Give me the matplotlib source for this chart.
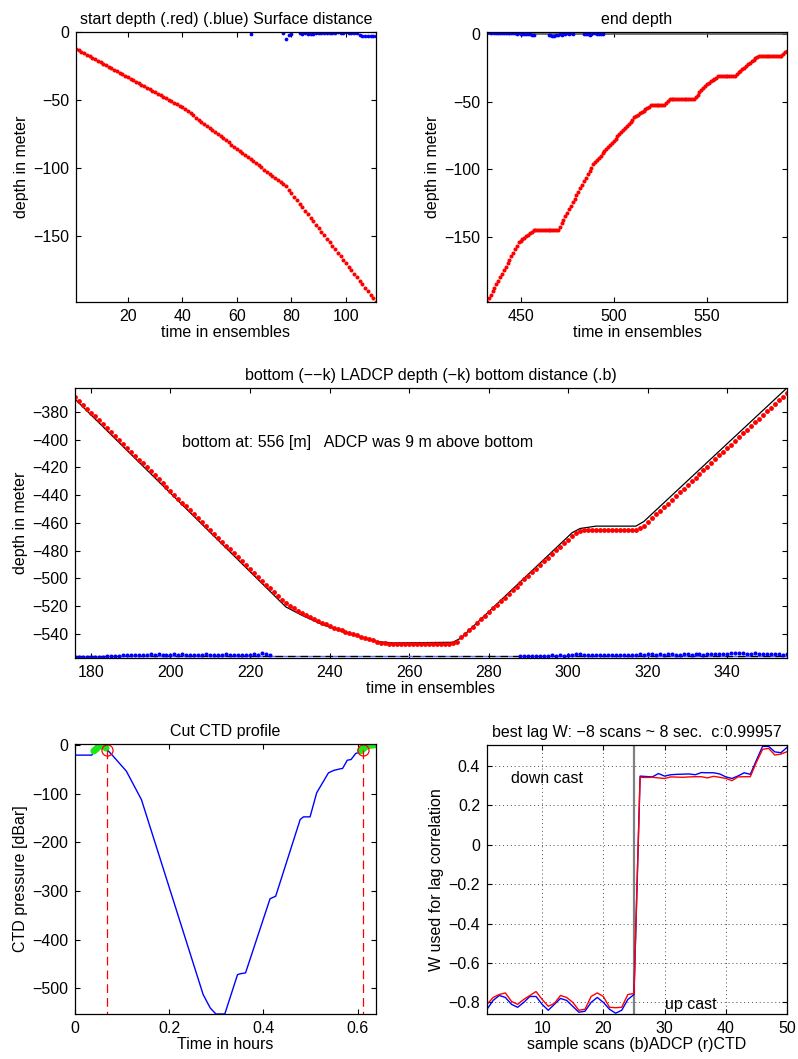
import numpy as np
import matplotlib
matplotlib.use("Agg")
import matplotlib.pyplot as plt

plt.rcParams["font.family"] = ["Liberation Sans", "DejaVu Sans"]
plt.rcParams["font.size"] = 11.5
plt.rcParams["axes.linewidth"] = 0.9

# --- start of cast: ensembles 1..111 ---
ens_start = np.arange(1, 112)
start_depth = [
    -12.0, -13.1, -14.2, -15.3, -16.4, -17.5, -18.6, -19.7, -20.8, -21.9,
    -23.0, -24.1, -25.2, -26.3, -27.4, -28.5, -29.6, -30.7, -31.8, -32.9,
    -34.1, -35.2, -36.3, -37.4, -38.5, -39.6, -40.7, -41.8, -42.9, -44.0,
    -45.1, -46.2, -47.3, -48.4, -49.5, -50.6, -51.7, -52.8, -53.9, -55.0,
    -56.5, -58.1, -59.6, -61.1, -62.6, -64.2, -65.7, -67.2, -68.7, -70.3,
    -71.8, -73.3, -74.8, -76.4, -77.9, -79.4, -80.9, -82.5, -84.0, -85.5,
    -87.1, -88.6, -90.1, -91.6, -93.2, -94.7, -96.2, -97.7, -99.3, -100.8,
    -102.3, -103.8, -105.4, -106.9, -108.4, -109.9, -111.5, -113.0, -115.6, -118.2,
    -120.7, -123.3, -125.9, -128.5, -131.0, -133.6, -136.2, -138.8, -141.3, -143.9,
    -146.5, -149.1, -151.6, -154.2, -156.8, -159.4, -161.9, -164.5, -167.1, -169.7,
    -172.2, -174.8, -177.4, -180.0, -182.5, -185.1, -187.7, -190.3, -192.8, -195.4,
    -198.0,
]
surf_ens = [65, 77, 78, 79, 80, 83, 84, 85, 86, 87, 88, 89, 90, 91, 92, 93, 94,
            95, 96, 97, 98, 99, 100, 101, 102, 103, 104, 105, 106, 107, 108,
            109, 110, 111]
surf_dist = [-1.5, -0.3, -5.0, -1.8, -1.0, -0.8, -1.0, -0.8, -1.0, -0.9, -1.1,
             -0.7, -0.8, -0.5, -0.4, -0.3, -0.4, -0.2, -0.3, -0.1, -0.2, -0.3,
             -0.1, -0.4, -0.2, -0.6, -0.5, -2.3, -2.4, -2.5, -2.4, -2.6, -2.5,
             -2.4]

# --- end of cast: ensembles 432..593 ---
ens_end = np.arange(432, 594)
end_depth = [
    -198.0, -195.4, -192.8, -190.2, -187.6, -185.1, -182.5, -179.9, -177.3, -174.7,
    -172.1, -169.5, -166.9, -164.4, -161.8, -159.2, -156.6, -154.0,
    -152.9, -151.8, -150.6, -149.5, -148.4, -147.3, -146.1, -145.0,
    -145.1, -145.0, -145.2, -145.1, -145.0, -145.1, -145.2, -145.1, -145.0, -145.1,
    -145.2, -145.1, -145.0,
    -142.4, -139.8, -137.3, -134.7, -132.1, -129.5, -126.9, -124.4, -121.8, -119.2,
    -116.6, -114.1, -111.5, -108.9, -106.3, -103.7, -101.2, -98.6, -96.0,
    -94.4, -92.9, -91.3, -89.7, -88.2, -86.6, -85.0, -83.5, -81.9, -80.3, -78.8,
    -77.2, -75.6, -74.0, -72.5, -70.9, -69.3, -67.8, -66.2, -64.6, -63.1, -61.5,
    -60.5, -59.5, -58.5, -57.5, -56.5, -55.5, -54.5, -53.5, -52.5,
    -52.5, -52.6, -52.5, -52.6, -52.5, -52.6, -52.5,
    -50.9, -49.3, -47.7,
    -47.7, -47.8, -47.7, -47.8, -47.7, -47.8, -47.7, -47.8, -47.7, -47.8, -47.7,
    -47.8, -47.7,
    -46.1, -44.6, -43.0, -41.5, -39.9, -38.4, -36.8,
    -35.8, -34.9, -33.9, -32.9, -32.0, -31.0,
    -30.9, -30.9, -30.8, -30.8, -30.7, -30.7, -30.6, -30.6, -30.5,
    -29.3, -28.2, -27.0, -25.8, -24.7, -23.5, -22.3, -21.2, -20.0, -18.8, -17.7,
    -16.5,
    -16.3, -16.0, -15.8,
    -15.8, -15.8, -15.9, -15.9, -15.9, -15.9, -16.0, -16.0, -16.0, -16.0,
    -14.7, -13.3, -12.0,
]
end_surf_ens = [432, 433, 434, 435, 436, 437, 438, 439, 440, 441, 442, 443, 444,
                445, 446, 447, 448, 449, 450, 451, 452, 453, 454, 455, 456, 457,
                465, 466, 467, 468, 469, 470, 471, 472, 473, 474, 475, 476, 477,
                478, 484, 485, 486, 487, 488, 489, 490, 491, 492, 493, 494]
end_surf_dist = [1.4, 1.5, 1.3, 1.4, 1.2, 1.3, 1.1, 1.2, 1.0, 1.1, 0.9, 1.0, 0.8,
                 0.9, 0.7, 0.8, 0.6, 0.7, 0.5, 0.6, 0.4, 0.5, 0.2, 0.3, -0.2, -0.6,
                 -0.5, -0.6, -1.0, -1.6, -0.8, -0.2, 0.3, -0.3, 0.6, 0.2, 0.8, 0.4,
                 0.7, 0.5, 0.4, 0.6, 0.2, -0.3, 0.1, 0.7, 0.9, 0.6, 0.5, 0.2, 0.0]

# --- bottom part: ensembles 176..355 ---
ens_bot = np.arange(176, 356)
bot_depth = [
    -369.2, -372.0, -374.8, -377.6, -380.5, -383.3, -386.1, -388.9, -391.7, -394.6,
    -397.4, -400.2, -403.0, -405.8, -408.6, -411.5, -414.3, -417.1, -419.9, -422.7,
    -425.5, -428.4, -431.2, -434.0, -436.8, -439.6, -442.4, -445.3, -448.1, -450.9,
    -453.7, -456.5, -459.3, -462.2, -465.0, -467.8, -470.6, -473.4, -476.3, -479.1,
    -481.9, -484.7, -487.5, -490.3, -493.2, -496.0, -498.8, -501.6, -504.4, -507.2,
    -510.1, -512.9, -515.7,
    -517.9, -519.8, -521.6, -523.3, -524.9, -526.4, -527.9, -529.3, -530.6, -531.9,
    -533.1, -534.3, -535.4, -536.4, -537.4, -538.4, -539.3, -540.2, -541.1, -542.0,
    -542.9, -543.8, -544.7, -545.5, -546.2, -546.7,
    -546.9, -547.0, -547.1, -547.0, -546.9, -547.0, -547.1, -547.0, -546.9, -547.0,
    -547.1, -547.0, -546.9, -547.0, -547.0, -546.9, -546.8,
    -545.5,
    -542.5, -539.9, -537.3, -534.7, -532.1, -529.4, -526.8, -524.2, -521.6, -519.0,
    -516.4, -513.8, -511.2, -508.6, -505.9, -503.3, -500.7, -498.1, -495.5, -492.9,
    -490.3, -487.7, -485.1, -482.4, -479.8, -477.2, -474.6, -472.0, -469.4,
    -467.2, -466.0, -465.4,
    -465.1, -465.2, -465.1, -465.0, -465.1, -465.2, -465.1, -465.0, -465.1, -465.2,
    -465.1, -465.0, -465.1,
    -464.0, -461.9,
    -459.2, -456.6, -453.9, -451.3, -448.6, -446.0, -443.3, -440.7, -438.0, -435.3,
    -432.7, -430.0, -427.4, -424.7, -422.1, -419.4, -416.7, -414.1, -411.4, -408.8,
    -406.1, -403.5, -400.8, -398.2, -395.5, -392.8, -390.2, -387.5, -384.9, -382.2,
    -379.6, -376.9, -374.2, -371.6, -368.9, -366.3,
]
ladcp_ens = [176, 229, 233, 238, 245, 252, 256, 271, 273, 301, 303, 307, 317, 319, 355]
ladcp_depth = [-370.8, -520.5, -526.5, -533.0, -540.0, -545.5, -546.5, -546.0,
               -543.0, -467.0, -464.0, -462.3, -462.3, -459.0, -362.7]
bottom_depth = -556.0
bottom_dist_ref = -555.7
bdist_ens = np.concatenate([np.arange(176, 226), np.arange(288, 356)])
bdist = [
    -556.8, -556.6, -556.9, -556.5, -556.7, -556.4, -556.6, -556.3, -556.0, -556.2,
    -555.7, -555.9, -555.3, -555.5, -555.4, -555.0, -555.3, -554.9, -555.2, -554.6,
    -555.0, -554.8, -555.1, -554.9, -555.2, -554.7, -555.0, -554.8, -555.3, -555.0,
    -554.9, -555.2, -555.0, -554.7, -555.1, -555.3, -554.9, -555.0, -554.8, -555.2,
    -555.0, -555.3, -555.1, -554.9, -555.0, -554.6, -555.2, -554.0, -554.8, -555.3,
    -556.2, -556.0, -555.8, -556.1, -555.7, -555.9, -556.2, -555.8, -555.5, -555.7,
    -555.4, -555.6, -555.2, -554.9, -554.5, -554.7, -555.0, -555.3, -555.4, -555.3,
    -555.5, -555.4, -555.3, -555.4, -555.2, -555.3, -555.1, -555.2, -555.0, -554.9,
    -554.6, -555.0, -554.7, -554.5, -554.9, -554.8, -555.1, -554.7, -554.4, -555.1,
    -555.0, -554.8, -554.6, -555.0, -554.8, -554.6, -555.0, -554.7, -554.5, -554.3,
    -554.7, -554.4, -554.2, -554.0, -553.9, -553.8, -554.0, -554.1, -554.3, -554.0,
    -554.2, -554.5, -554.4, -554.6, -554.8, -554.7, -554.9, -554.8,
]

# --- CTD pressure time series ---
ctd_hours = [0.000, 0.0355, 0.045, 0.052, 0.060, 0.068, 0.081, 0.109, 0.141,
             0.272, 0.287, 0.299, 0.318, 0.345, 0.352, 0.362, 0.414, 0.426,
             0.478, 0.485, 0.499, 0.513, 0.538, 0.549, 0.563, 0.568, 0.578,
             0.586, 0.596, 0.606, 0.612, 0.620, 0.639]
ctd_press = [-20.5, -20.5, -8.0, -1.0, -1.0, -9.0, -22.6, -53.5, -112.0,
             -513.0, -540.5, -553.0, -553.0, -472.0, -470.0, -468.5, -316.0,
             -310.7, -153.0, -147.5, -147.5, -98.0, -57.0, -52.0, -48.7, -48.0,
             -31.0, -29.5, -17.0, -14.0, -9.0, -2.0, 0.0]
surf_hours_a = [0.040, 0.045, 0.052, 0.060, 0.066]
surf_press_a = [-12.0, -8.0, -1.0, -1.0, -6.0]
surf_hours_b = [0.606, 0.612, 0.620, 0.639]
surf_press_b = [-12.0, -7.0, -1.0, 1.0]
cut_hours = [0.068, 0.612]
cut_press = [-9.0, -9.0]

# --- lag correlation of vertical velocity ---
scans = np.arange(1, 51)
w_adcp = [
    -0.835, -0.79, -0.765, -0.775, -0.81, -0.825, -0.80, -0.77, -0.77, -0.81,
    -0.84, -0.81, -0.78, -0.79, -0.82, -0.85, -0.845, -0.80, -0.775, -0.80,
    -0.835, -0.855, -0.84, -0.785, -0.76,
    0.349, 0.347, 0.345, 0.362, 0.349, 0.356, 0.358, 0.359, 0.360, 0.356,
    0.367, 0.366, 0.366, 0.360, 0.345, 0.337, 0.350, 0.366, 0.358, 0.430,
    0.500, 0.500, 0.472, 0.468, 0.495,
]
w_ctd = [
    -0.81, -0.775, -0.76, -0.752, -0.795, -0.81, -0.785, -0.765, -0.745, -0.785,
    -0.82, -0.805, -0.765, -0.775, -0.80, -0.84, -0.835, -0.77, -0.752, -0.77,
    -0.825, -0.827, -0.825, -0.76, -0.755,
    0.343, 0.342, 0.343, 0.340, 0.337, 0.345, 0.344, 0.343, 0.345, 0.346,
    0.346, 0.340, 0.348, 0.343, 0.337, 0.326, 0.345, 0.346, 0.346, 0.420,
    0.485, 0.490, 0.456, 0.461, 0.473,
]
split_scan = 25


def style_axes(ax):
    ax.tick_params(direction="in", top=True, right=True, length=3.5,
                   width=0.8, labelsize=11.5, pad=5)
    for sp in ax.spines.values():
        sp.set_linewidth(0.9)


def main():
    fig = plt.figure(figsize=(7.98, 10.59), dpi=100)

    # start depth
    ax1 = fig.add_axes([0.0952, 0.7150, 0.3760, 0.2545])
    ax1.axhline(0, color="0.35", lw=1.2)
    ax1.plot(ens_start, start_depth, "o", color="red", ms=2.9, mew=0)
    ax1.plot(surf_ens, surf_dist, "o", color="blue", ms=2.7, mew=0)
    ax1.set_xlim(1, 111)
    ax1.set_ylim(-198, 0)
    ax1.set_xticks([20, 40, 60, 80, 100])
    ax1.set_yticks([0, -50, -100, -150])
    ax1.set_title("start depth (.red) (.blue) Surface distance", fontsize=11.5, pad=6)
    ax1.set_xlabel("time in ensembles", labelpad=1)
    ax1.set_ylabel("depth in meter", labelpad=3)
    style_axes(ax1)

    # end depth
    ax2 = fig.add_axes([0.6103, 0.7150, 0.3760, 0.2545])
    ax2.axhline(0, color="0.35", lw=1.2)
    ax2.plot(ens_end, end_depth, "o", color="red", ms=2.9, mew=0)
    ax2.plot(end_surf_ens, end_surf_dist, "o", color="blue", ms=2.7, mew=0)
    ax2.set_xlim(432, 593)
    ax2.set_ylim(-198, 1.5)
    ax2.set_xticks([450, 500, 550])
    ax2.set_yticks([0, -50, -100, -150])
    ax2.set_title("end depth", fontsize=11.5, pad=6)
    ax2.set_xlabel("time in ensembles", labelpad=1)
    ax2.set_ylabel("depth in meter", labelpad=3)
    style_axes(ax2)

    # bottom detection
    ax3 = fig.add_axes([0.0940, 0.3787, 0.8922, 0.2550])
    ax3.axhline(bottom_dist_ref, color=(0.35, 0.45, 1.0), lw=1.0)
    ax3.axhline(bottom_depth, color="black", lw=0.9, ls=(0, (6, 4)))
    ax3.plot(ladcp_ens, ladcp_depth, "-", color="black", lw=0.9)
    ax3.plot(ens_bot, bot_depth, "o", color="red", ms=3.5, mew=0)
    ax3.plot(bdist_ens, bdist, "o", color="blue", ms=2.9, mew=0)
    ax3.text(202.9, -401.9, "bottom at: 556 [m]   ADCP was 9 m above bottom",
             va="center", ha="left", fontsize=11.5)
    ax3.set_xlim(176, 355)
    ax3.set_ylim(-557.3, -362.7)
    ax3.set_xticks(np.arange(180, 341, 20))
    ax3.set_yticks(np.arange(-540, -379, 20))
    ax3.set_title("bottom (\u2212\u2212k) LADCP depth (\u2212k) bottom distance (.b)",
                  fontsize=11.5, pad=6)
    ax3.set_xlabel("time in ensembles", labelpad=1)
    ax3.set_ylabel("depth in meter", labelpad=3)
    style_axes(ax3)

    # CTD profile with cut points
    ax4 = fig.add_axes([0.0940, 0.0425, 0.3772, 0.2550])
    ax4.plot(ctd_hours, ctd_press, "-", color="blue", lw=1.0)
    ax4.plot(surf_hours_a, surf_press_a, "-", color=(0.1, 0.9, 0.1), lw=5,
             solid_capstyle="round")
    ax4.plot(surf_hours_b, surf_press_b, "-", color=(0.1, 0.9, 0.1), lw=5,
             solid_capstyle="round")
    for h, p in zip(cut_hours, cut_press):
        ax4.plot([h, h], [p, -553], color="red", lw=0.9, ls=(0, (7, 4)))
    ax4.plot(cut_hours, cut_press, "o", mfc="none", mec="red", ms=8, mew=0.9)
    ax4.set_xlim(0, 0.639)
    ax4.set_ylim(-553, 2.5)
    ax4.set_xticks([0, 0.2, 0.4, 0.6])
    ax4.set_xticklabels(["0", "0.2", "0.4", "0.6"])
    ax4.set_yticks([0, -100, -200, -300, -400, -500])
    ax4.set_title("Cut CTD profile", fontsize=11.5, pad=6)
    ax4.set_xlabel("Time in hours", labelpad=1)
    ax4.set_ylabel("CTD pressure [dBar]", labelpad=3)
    style_axes(ax4)

    # lag correlation
    ax5 = fig.add_axes([0.6103, 0.0425, 0.3760, 0.2540])
    ax5.grid(True, ls=(0, (1, 3)), color="0.3", lw=0.7)
    ax5.axvline(split_scan, color="0.5", lw=1.6)
    ax5.plot(scans, w_adcp, "-", color="blue", lw=1.0)
    ax5.plot(scans, w_ctd, "-", color="red", lw=1.0)
    ax5.text(4.9, 0.337, "down cast", va="center", ha="left", fontsize=11.5)
    ax5.text(30, -0.812, "up cast", va="center", ha="left", fontsize=11.5)
    ax5.set_xlim(1, 50)
    ax5.set_ylim(-0.859, 0.507)
    ax5.set_xticks([10, 20, 30, 40, 50])
    ax5.set_yticks([-0.8, -0.6, -0.4, -0.2, 0, 0.2, 0.4])
    ax5.set_yticklabels(["\u22120.8", "\u22120.6", "\u22120.4", "\u22120.2", "0",
                         "0.2", "0.4"])
    ax5.set_title("best lag W: \u22128 scans ~ 8 sec.  c:0.99957", fontsize=11.5, pad=6)
    ax5.set_xlabel("sample scans (b)ADCP (r)CTD", labelpad=1)
    ax5.set_ylabel("W used for lag correlation", labelpad=3)
    style_axes(ax5)

    fig.savefig("out.png", dpi=100)


if __name__ == "__main__":
    main()
